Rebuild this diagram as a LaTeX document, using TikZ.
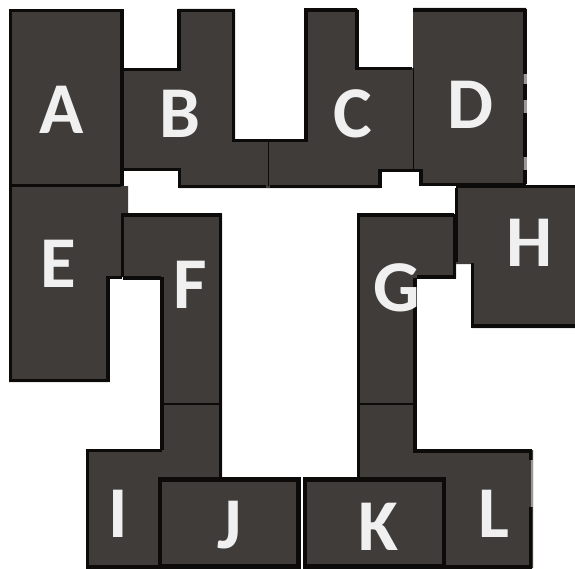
\documentclass[tikz,border=0pt]{standalone}
\usepackage{fontspec}
\setmainfont{Carlito}
\definecolor{room}{HTML}{403C3A}
\definecolor{inkwall}{HTML}{0C0B0A}
\definecolor{fade}{HTML}{9A9896}
\tikzset{
  plan/.style={x=1bp,y=-1bp},
  roomfill/.style={fill=room,draw=none},
  wall/.style={draw=inkwall,line width=3.9bp,line cap=butt,line join=miter},
  thinwall/.style={draw=inkwall,line width=1.8bp},
  heavywall/.style={draw=inkwall,line width=4.6bp,line join=miter},
  fadewall/.style={draw=fade,line width=2.4bp},
  letter/.style={text=white!94!black,font=\fontsize{73bp}{73bp}\selectfont\bfseries,inner sep=0pt,anchor=center}
}
\begin{document}
\begin{tikzpicture}[plan]
\useasboundingbox (0,0) rectangle (575,569);
% fills
\fill[roomfill] (9,9)--(123,9)--(123,187)--(9,187)--cycle;
\fill[roomfill] (122,69)--(178,69)--(178,9)--(235,9)--(235,140)--(269,140)--(269,188)--(179,188)--(179,170)--(122,170)--cycle;
\fill[roomfill] (268,140)--(305,140)--(305,9)--(358,9)--(358,68)--(414,68)--(414,171)--(380,171)--(380,188)--(268,188)--cycle;
\fill[roomfill] (413,8)--(526,8)--(526,185)--(420,185)--(420,171)--(413,171)--cycle;
\fill[roomfill] (9,186)--(128,186)--(128,214)--(123,214)--(123,277)--(109,277)--(109,382)--(9,382)--cycle;
\fill[roomfill] (123,214)--(222,214)--(222,404)--(161,404)--(161,278)--(123,278)--cycle;
\fill[roomfill] (456,186)--(575,186)--(575,328)--(472,328)--(472,264)--(456,264)--cycle;
\fill[roomfill] (357,214)--(456,214)--(456,278)--(416,278)--(416,404)--(357,404)--cycle;
\fill[roomfill] (86,450)--(161,450)--(161,404)--(222,404)--(222,478)--(222,568)--(86,568)--cycle;
\fill[roomfill] (158,477)--(300,477)--(300,568)--(158,568)--cycle;
\fill[roomfill] (303,477)--(445,477)--(445,568)--(303,568)--cycle;
\fill[roomfill] (357,404)--(416,404)--(416,450)--(533,450)--(533,568)--(357,568)--cycle;
% walls
\draw[wall] (10.5,186)--(10.5,10.5)--(122,10.5)--(122,186);
\draw[wall] (10,185.5)--(121,185.5);
\draw[wall] (123,69.5)--(179,69.5)--(179,10.5)--(233.5,10.5)--(233.5,140.5)--(270,140.5);
\draw[wall] (123,169.5)--(179.5,169.5)--(179.5,186.5)--(266,186.5);
\draw[thinwall] (268.5,140)--(268.5,186);
\draw[wall] (270,140.5)--(306,140.5)--(306,10)--(357,10);
\draw[wall] (357,10)--(357,68.5)--(412,68.5);
\draw[wall] (270,186.5)--(380,186.5)--(380,170.5)--(421,170.5)--(421,184.5)--(526,184.5);
\draw[thinwall] (413.5,68)--(413.5,170);
\draw[wall] (413,10)--(526,10);
\draw[wall] (525,9)--(525,74) (525,84)--(525,100) (525,113)--(525,157) (525,170)--(525,184);
\draw[fadewall] (525.5,74)--(525.5,84) (525.5,100)--(525.5,113) (525.5,157)--(525.5,170);
\draw[wall] (10.5,186)--(10.5,380.5)--(108,380.5)--(108,277.5)--(122,277.5);
\draw[wall] (122.5,277)--(122.5,215)--(220.5,215)--(220.5,480);
\draw[wall] (162,277)--(162,404);
\draw[wall] (161,278)--(123,278);
\draw[thinwall] (162,404)--(220,404);
\draw[wall] (162,404)--(162,450);
\draw[wall] (162,450.5)--(87.5,450.5)--(87.5,567)--(160,567);
\draw[wall] (358.5,480)--(358.5,215)--(454,215);
\draw[wall] (454.5,214)--(454.5,277)--(417,277);
\draw[wall] (415,278)--(415,451)--(530.5,451)--(530.5,460);
\draw[fadewall] (532,460)--(532,507);
\draw[wall] (530.5,507)--(530.5,567)--(444,567);
\draw[thinwall] (358,404)--(414,404);
\draw[wall] (456.5,188)--(456.5,262);
\draw[wall] (456,186.5)--(575,186.5);
\draw[wall] (472.5,263)--(472.5,326)--(575,326);
\draw[heavywall] (160,566.5)--(160,479.5)--(298.5,479.5)--(298.5,566.5)--cycle;
\draw[heavywall] (305,566.5)--(305,479.5)--(444,479.5)--(444,566.5)--cycle;
% labels
\node[letter] (a) at (62,110) {A};
\node[letter] (b) at (180,114) {B};
\node[letter] (c) at (353,114) {C};
\node[letter] (d) at (471,105) {D};
\node[letter] (e) at (58,264) {E};
\node[letter] (f) at (190,285) {F};
\node[letter] (g) at (397,288) {G};
\node[letter] (h) at (530,243) {H};
\node[letter] (i) at (118,514) {I};
\node[letter] (j) at (230,525) {J};
\node[letter] (k) at (378,527) {K};
\node[letter] (l) at (494,514) {L};
\end{tikzpicture}
\end{document}
